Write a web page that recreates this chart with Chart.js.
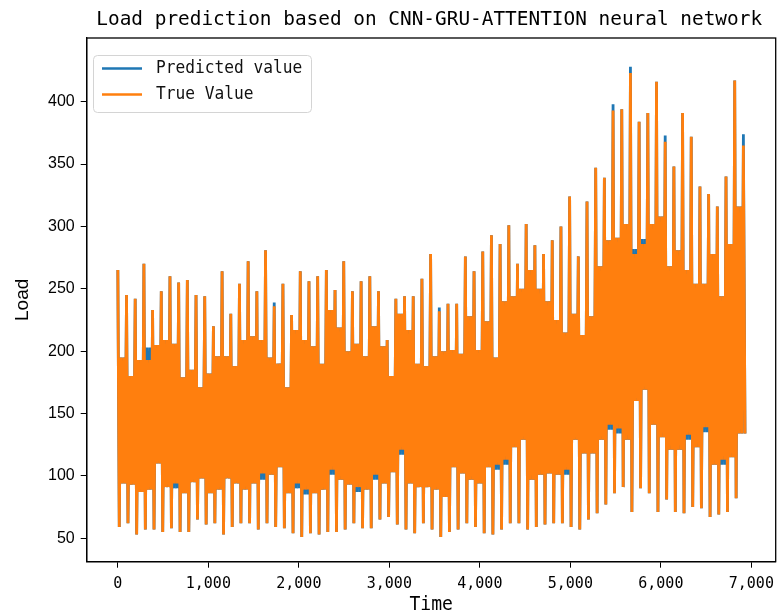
<!DOCTYPE html>
<html>
<head>
<meta charset="utf-8">
<script src="https://cdn.jsdelivr.net/npm/chart.js@4.4.1/dist/chart.umd.min.js"></script>
<style>
  html, body { margin: 0; padding: 0; background: #fff; }
  #wrap { width: 781px; height: 616px; }
</style>
</head>
<body>
<div id="wrap"><canvas id="chart" width="781" height="616"></canvas></div>
<script>
// one entry per cycle of 96 time steps
// peak = top of the spike, trough = bottom of the spike right after it,
// high / low = edges of the solid band between two spikes
const peaks = [
  265, 245, 242, 270, 233, 248, 260, 255, 257,
  245, 244, 220, 264, 230, 254, 272, 248, 281,
  236, 254, 229, 264, 256, 260, 265, 249, 272,
  248, 256, 260, 248, 209, 242, 244, 244, 258,
  278, 232, 238, 238, 276, 264, 280, 293, 286, 301, 270, 302, 285, 278, 289, 300, 324, 276,
  320, 347, 339, 393, 394, 423, 384, 391, 416, 368, 348, 391, 372, 332, 326, 316, 340, 417, 365
];
const troughs = [
  59, 62, 53, 57, 57, 55, 58, 55, 55,
  65, 61, 62, 53, 59, 62, 62, 57, 62,
  59, 58, 54, 51, 54, 53, 55, 55, 57,
  62, 58, 58, 65, 67, 61, 57, 54, 62,
  57, 51, 55, 57, 62, 59, 54, 53, 57, 62, 62, 57, 59, 61, 62, 62, 59, 57,
  65, 70, 77, 86, 91, 71, 90, 86, 71, 81, 71, 70, 75, 74, 67, 69, 71, 82, 134
];
const highs = [
  195, 180, 193, 193, 205, 209, 206, 179, 185,
  171, 182, 196, 196, 188, 209, 212, 209, 195,
  190, 171, 217, 209, 204, 190, 233, 219, 200,
  206, 196, 220, 204, 180, 230, 217, 190, 188,
  196, 200, 201, 198, 228, 201, 224, 195, 240, 244, 250, 265, 250, 240, 225, 215, 230, 213,
  228, 268, 289, 291, 302, 278, 286, 302, 308, 268, 281, 265, 254, 254, 278, 244, 286, 316, 280
];
const lows = [
  94, 93, 87, 89, 110, 91, 94, 86, 95,
  98, 86, 89, 98, 94, 89, 94, 102, 101,
  107, 86, 94, 89, 86, 89, 105, 97, 93,
  91, 89, 101, 94, 103, 121, 94, 91, 91,
  89, 83, 107, 102, 97, 94, 107, 109, 113, 123, 129, 97, 101, 102, 101, 105, 129, 118,
  118, 129, 141, 138, 129, 160, 169, 141, 131, 121, 121, 133, 123, 139, 109, 113, 115, 134, 134
];

// places where the blue prediction shows from under the orange line
const predPeakFix = [[18, 239], [37, 235], [57, 398], [59, 428], [63, 373], [72, 374]];
const predHighFix = [[3, 203], [59, 282], [60, 290]];
const predLowFix = [[6, 90], [16, 97], [20, 90], [21, 85], [24, 101], [27, 87], [29, 97], [32, 117],
  [43, 105], [44, 109], [51, 101], [56, 137], [57, 134], [65, 129], [67, 135], [69, 109]];

const xTicks = [0, 1000, 2000, 3000, 4000, 5000, 6000, 7000];
const yTicks = [50, 100, 150, 200, 250, 300, 350, 400];

const cycle = 96;
const lastTime = 6930;

function withFix(arr, fixes) {
  const out = arr.slice();
  fixes.forEach(([i, v]) => { out[i] = v; });
  return out;
}

// inside a cycle: spike up, spike down, then the band swings twice
function buildSeries(p, t, h, l) {
  const pts = [];
  for (let k = 0; k < p.length; k++) {
    const t0 = k * cycle;
    pts.push({ x: t0, y: p[k] });
    if (k === p.length - 1) {
      pts.push({ x: lastTime, y: t[k] });
      break;
    }
    pts.push({ x: t0 + 16, y: t[k] });
    pts.push({ x: t0 + 32, y: h[k] });
    pts.push({ x: t0 + 48, y: l[k] });
    pts.push({ x: t0 + 64, y: h[k] });
    pts.push({ x: t0 + 80, y: l[k] });
  }
  return pts;
}

const trueSeries = buildSeries(peaks, troughs, highs, lows);
const predSeries = buildSeries(withFix(peaks, predPeakFix), troughs,
  withFix(highs, predHighFix), withFix(lows, predLowFix));

const BLUE = "#1f77b4";
const ORANGE = "#ff7f0e";
const MONO = "'DejaVu Sans Mono', monospace";

// squeezed mono text, close to the SimHei look of the original
function monoText(ctx, text, x, y, size, squeeze, align) {
  ctx.save();
  ctx.font = size + "px " + MONO;
  ctx.textBaseline = "middle";
  ctx.textAlign = align || "left";
  ctx.translate(x, y);
  ctx.scale(squeeze, 1);
  ctx.fillText(text, 0, 0);
  ctx.restore();
}

const decorations = {
  id: "decorations",
  afterDraw(chart) {
    const { ctx, chartArea: a } = chart;
    ctx.save();
    // frame
    ctx.strokeStyle = "#000";
    ctx.lineWidth = 1.3;
    ctx.strokeRect(a.left, a.top, a.right - a.left, a.bottom - a.top);
    ctx.fillStyle = "#000";

    // title
    monoText(ctx, "Load prediction based on CNN-GRU-ATTENTION neural network",
      (a.left + a.right) / 2 - 2, 20, 20, 0.97, "center");

    // axis titles
    monoText(ctx, "Time", (a.left + a.right) / 2, 605, 19, 0.95, "center");
    ctx.save();
    ctx.translate(23, (a.top + a.bottom) / 2);
    ctx.rotate(-Math.PI / 2);
    ctx.font = "19px 'Liberation Sans', Arial, sans-serif";
    ctx.textAlign = "center";
    ctx.textBaseline = "middle";
    ctx.fillText("Load", 0, 0);
    ctx.restore();

    // legend
    const lx = 93.5, ly = 55.5, lw = 218, lh = 57, r = 4;
    ctx.beginPath();
    ctx.moveTo(lx + r, ly);
    ctx.arcTo(lx + lw, ly, lx + lw, ly + lh, r);
    ctx.arcTo(lx + lw, ly + lh, lx, ly + lh, r);
    ctx.arcTo(lx, ly + lh, lx, ly, r);
    ctx.arcTo(lx, ly, lx + lw, ly, r);
    ctx.closePath();
    ctx.fillStyle = "rgba(255,255,255,0.85)";
    ctx.fill();
    ctx.strokeStyle = "#d4d4d4";
    ctx.lineWidth = 1;
    ctx.stroke();

    chart.data.datasets.forEach((ds, i) => {
      const y = 68.5 + i * 26;
      ctx.strokeStyle = ds.borderColor;
      ctx.lineWidth = 2.6;
      ctx.beginPath();
      ctx.moveTo(102, y);
      ctx.lineTo(142, y);
      ctx.stroke();
      ctx.fillStyle = "#111";
      monoText(ctx, ds.label, 156, y, 18, 0.9, "left");
    });
    ctx.restore();
  }
};

new Chart(document.getElementById("chart"), {
  type: "line",
  data: {
    datasets: [
      {
        label: "Predicted value",
        data: predSeries,
        borderColor: BLUE,
        borderWidth: 2.8,
        pointRadius: 0,
        tension: 0,
        order: 1
      },
      {
        label: "True Value",
        data: trueSeries,
        borderColor: ORANGE,
        borderWidth: 2.8,
        pointRadius: 0,
        tension: 0,
        order: 0
      }
    ]
  },
  options: {
    responsive: false,
    animation: false,
    parsing: false,
    layout: { padding: { top: 38, right: 2, left: 0, bottom: 0 } },
    plugins: {
      legend: { display: false },
      title: { display: false },
      tooltip: { enabled: false }
    },
    scales: {
      x: {
        type: "linear",
        min: -344,
        max: 7269,
        afterBuildTicks: (s) => { s.ticks = xTicks.map((v) => ({ value: v })); },
        afterFit: (s) => { s.height = 54.3; },
        grid: { drawOnChartArea: false, drawTicks: true, tickLength: 6, color: "#000", lineWidth: 1 },
        border: { display: true, color: "#000", width: 1.3 },
        ticks: {
          color: "#000",
          padding: 7,
          maxRotation: 0,
          autoSkip: false,
          font: { family: MONO, size: 15 },
          callback: (v) => v.toLocaleString("en-US")
        }
      },
      y: {
        type: "linear",
        min: 31.2,
        max: 451.1,
        afterBuildTicks: (s) => { s.ticks = yTicks.map((v) => ({ value: v })); },
        afterFit: (s) => { s.width = 86.7; },
        grid: { drawOnChartArea: false, drawTicks: true, tickLength: 6, color: "#000", lineWidth: 1 },
        border: { display: true, color: "#000", width: 1.3 },
        ticks: {
          color: "#000",
          padding: 6,
          autoSkip: false,
          font: { family: "'Liberation Sans', Arial, sans-serif", size: 16 }
        }
      }
    }
  },
  plugins: [decorations]
});
</script>
</body>
</html>
